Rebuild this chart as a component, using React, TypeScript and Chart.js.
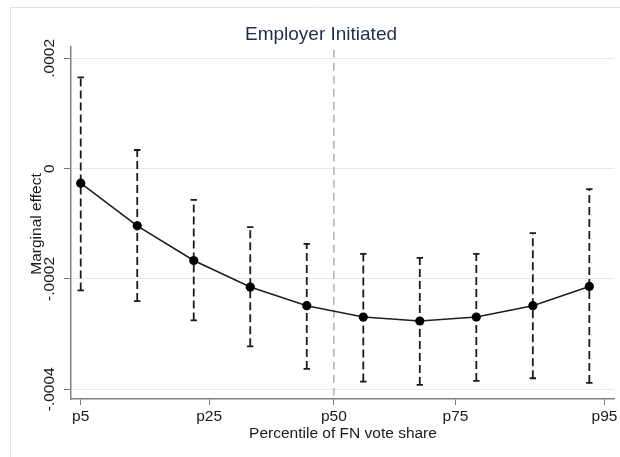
import React, { useEffect, useRef } from "react";
import { Chart, registerables } from "chart.js";

Chart.register(...registerables);

// ---- data ----
const titleText = "Employer Initiated";
const xTitle = "Percentile of FN vote share";
const yTitle = "Marginal effect";

// x positions (FN vote share) of the estimated points
const xValues = [6.0, 8.5, 11.0, 13.5, 16.0, 18.5, 21.0, 23.5, 26.0, 28.5];
// marginal effect estimates
const estimates = [-0.0000264, -0.0001037, -0.0001665, -0.0002147, -0.0002485, -0.000269, -0.0002762, -0.000269, -0.0002485, -0.0002136];
// confidence interval bounds
const upperCI = [0.0001654, 0.0000338, -0.0000567, -0.0001061, -0.0001363, -0.0001544, -0.0001616, -0.0001544, -0.0001169, -0.0000373];
const lowerCI = [-0.0002208, -0.00024, -0.0002751, -0.0003222, -0.0003631, -0.000386, -0.000392, -0.0003848, -0.00038, -0.0003884];

// percentile tick positions and labels on x axis
const pctTickValues = [6.0, 11.68, 17.2, 22.58, 29.17];
const pctTickLabels = ["p5", "p25", "p50", "p75", "p95"];
const medianX = 17.2;

// y ticks
const yTickValues = [-0.0004, -0.0002, 0, 0.0002];
const yTickLabels = ["-.0004", "-.0002", "0", ".0002"];

const X_MIN = 5.57;
const X_MAX = 29.6;
const Y_MIN = -0.0004176;
const Y_MAX = 0.0002205;

const FONT = "'Liberation Sans', Arial, Helvetica, sans-serif";

const customText = {
  id: "customText",
  beforeDraw(chart: any) {
    const ctx = chart.ctx;
    ctx.save();
    ctx.fillStyle = "#ffffff";
    ctx.fillRect(0, 0, chart.width, chart.height);
    ctx.strokeStyle = "#e2e2e2";
    ctx.lineWidth = 1;
    ctx.beginPath();
    ctx.moveTo(10.5, chart.height);
    ctx.lineTo(10.5, 7.5);
    ctx.lineTo(chart.width, 7.5);
    ctx.stroke();
    ctx.restore();
  },
  afterDraw(chart: any) {
    const ctx = chart.ctx;
    const ys = chart.scales.y;
    ctx.save();
    // title
    ctx.fillStyle = "#1f2d4d";
    ctx.font = `19px ${FONT}`;
    ctx.textAlign = "center";
    ctx.textBaseline = "middle";
    ctx.fillText(titleText, 321, 35);
    // x title
    ctx.fillStyle = "#1a1a1a";
    ctx.font = `15.5px ${FONT}`;
    ctx.fillText(xTitle, 343, 434);
    // y title
    ctx.save();
    ctx.translate(37, 224);
    ctx.rotate(-Math.PI / 2);
    ctx.fillText(yTitle, 0, 0);
    ctx.restore();
    // y tick labels
    yTickValues.forEach((v, i) => {
      const py = ys.getPixelForValue(v);
      ctx.save();
      ctx.translate(50, py);
      ctx.rotate(-Math.PI / 2);
      ctx.fillText(yTickLabels[i], 0, 0);
      ctx.restore();
    });
    ctx.restore();
  },
};

export default function App() {
  const ref = useRef<HTMLCanvasElement>(null);
  useEffect(() => {
    if (!ref.current) return;
    const errData: any[] = [];
    xValues.forEach((x, i) => {
      errData.push({ x, y: lowerCI[i] });
      errData.push({ x, y: upperCI[i] });
      errData.push({ x, y: null });
    });
    const chart = new Chart(ref.current, {
      type: "scatter",
      data: {
        datasets: [
          {
            data: [
              { x: medianX, y: Y_MAX - 0.000005 },
              { x: medianX, y: Y_MIN },
            ],
            showLine: true,
            borderColor: "#8a8a8a",
            borderWidth: 1,
            borderDash: [8, 5],
            pointRadius: 0,
            order: 3,
          } as any,
          {
            data: errData,
            showLine: true,
            spanGaps: false,
            borderColor: "#1a1a1a",
            borderWidth: 1.8,
            borderDash: [8, 4],
            pointStyle: "line",
            pointRadius: 3.2,
            pointBorderWidth: 1.8,
            pointBorderColor: "#1a1a1a",
            order: 2,
          } as any,
          {
            data: xValues.map((x, i) => ({ x, y: estimates[i] })),
            showLine: true,
            borderColor: "#1e1e1e",
            borderWidth: 1.6,
            pointRadius: 4.6,
            pointBackgroundColor: "#000",
            pointBorderColor: "#000",
            pointBorderWidth: 0,
            order: 1,
          } as any,
        ],
      },
      options: {
        animation: false,
        responsive: false,
        events: [],
        layout: { padding: { left: 0, right: 3, top: 47, bottom: 0 } },
        plugins: {
          legend: { display: false },
          tooltip: { enabled: false },
          title: { display: false },
        },
        scales: {
          x: {
            type: "linear",
            min: X_MIN,
            max: X_MAX,
            afterBuildTicks: (s: any) => {
              s.ticks = pctTickValues.map((v) => ({ value: v }));
            },
            afterFit: (s: any) => {
              s.height = 58;
            },
            ticks: {
              callback: (_v: any, i: number) => pctTickLabels[i],
              color: "#1a1a1a",
              font: { size: 15.5, family: FONT },
              padding: 2,
              maxRotation: 0,
              autoSkip: false,
            },
            grid: {
              drawOnChartArea: false,
              drawTicks: true,
              tickLength: 6,
              tickColor: "#777",
              tickWidth: 1,
            },
            border: { color: "#808080", width: 1.5 },
          },
          y: {
            type: "linear",
            min: Y_MIN,
            max: Y_MAX,
            afterBuildTicks: (s: any) => {
              s.ticks = yTickValues.map((v) => ({ value: v }));
            },
            afterFit: (s: any) => {
              s.width = 71;
            },
            ticks: { display: false },
            grid: {
              color: "#e8e8e8",
              lineWidth: 1,
              drawTicks: true,
              tickLength: 7,
              tickColor: "#777",
              tickWidth: 1,
            },
            border: { color: "#808080", width: 1.5 },
          },
        },
      },
      plugins: [customText],
    });
    return () => chart.destroy();
  }, []);
  return (
    <div style={{ position: "absolute", left: 0, top: 0, width: 620, height: 457 }}>
      <canvas ref={ref} width={620} height={457} style={{ width: 620, height: 457 }} />
    </div>
  );
}
